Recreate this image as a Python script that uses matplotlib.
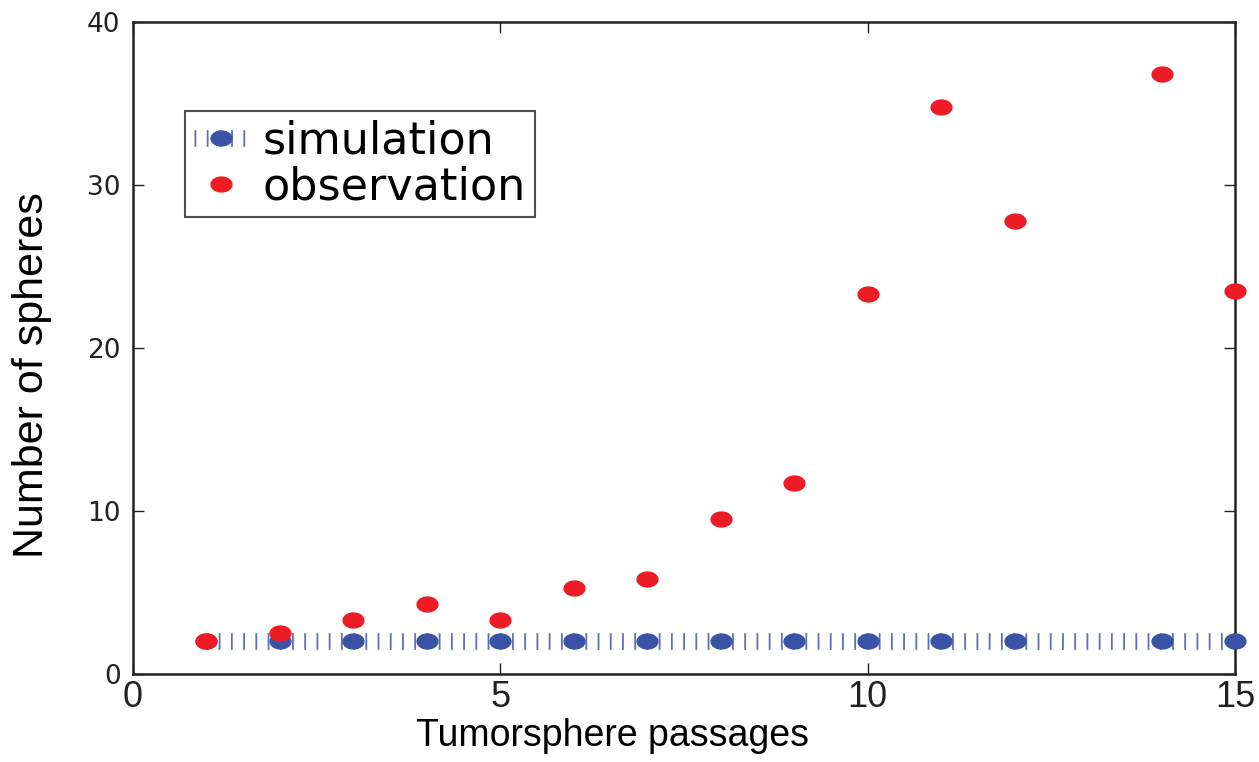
import numpy as np
import matplotlib
matplotlib.use("Agg")
import matplotlib.pyplot as plt
from matplotlib.path import Path
from matplotlib.lines import Line2D
from matplotlib import font_manager

passages = [1, 2, 3, 4, 5, 6, 7, 8, 9, 10, 11, 12, 14, 15]
simulation = [2, 2, 2, 2, 2, 2, 2, 2, 2, 2, 2, 2, 2, 2]
observation = [2.0, 2.5, 3.3, 4.3, 3.3, 5.3, 5.8, 9.5, 11.7, 23.3, 34.8, 27.8, 36.8, 23.5]
x_ticks = [0, 5, 10, 15]
y_ticks = [0, 10, 20, 30, 40]

names = {f.name for f in font_manager.fontManager.ttflist}
narrow = "Liberation Sans Narrow" if "Liberation Sans Narrow" in names else "Liberation Sans"

blue = "#3a53a4"
bar_blue = "#5a70b8"
red = "#ed1c24"

# ellipse marker, wider than tall
t = np.linspace(0, 2 * np.pi, 60)
ellipse = Path(np.column_stack([1.4 * np.cos(t), np.sin(t)]))

plt.rcParams["lines.scale_dashes"] = False
fig = plt.figure(figsize=(12.59, 7.62), dpi=100)
ax = fig.add_axes([133 / 1259, 1 - 674 / 762, (1235 - 133) / 1259, (674 - 22) / 762])

# simulation: hatched line of short vertical bars with dot markers
ax.plot(passages, simulation, color=bar_blue, linewidth=12, linestyle=(0, (1.3, 7.5)),
        solid_capstyle="butt", dash_capstyle="butt", zorder=2)
ax.plot(passages, simulation, linestyle="none", marker=ellipse, markersize=15,
        color=blue, zorder=3, clip_on=False)
ax.plot(passages, observation, linestyle="none", marker=ellipse, markersize=15,
        color=red, zorder=4, clip_on=False)

ax.set_xlim(0, 15)
ax.set_ylim(0, 40)
ax.set_xticks(x_ticks)
ax.set_yticks(y_ticks)
ax.tick_params(direction="in", length=8, width=1, top=True, right=True, colors="#222222")
for lab in ax.get_xticklabels():
    lab.set_fontfamily(narrow)
    lab.set_fontsize(26)
for lab in ax.get_yticklabels():
    lab.set_fontfamily("DejaVu Sans")
    lab.set_fontsize(19)
ax.tick_params(axis="x", pad=4)
ax.tick_params(axis="y", pad=9)
for s in ax.spines.values():
    s.set_linewidth(1.8)
    s.set_color("#222222")

ax.set_xlabel("Tumorsphere passages", fontfamily=narrow, fontsize=27)
ax.xaxis.set_label_coords((613 - 133) / 1102, (674 - 718) / 652)
ax.set_ylabel("Number of spheres", fontfamily=narrow, fontsize=31)
ax.yaxis.set_label_coords((52 - 133) / 1102, (674 - 375) / 652)

handles = [
    Line2D([0], [0], color=bar_blue, linewidth=12, linestyle=(0, (1.3, 7.5)),
           dash_capstyle="butt", marker=ellipse, markersize=15,
           markerfacecolor=blue, markeredgecolor=blue),
    Line2D([0], [0], linestyle="none", marker=ellipse, markersize=15, color=red),
]
leg = ax.legend(handles, ["simulation", "observation"], loc="upper left",
                bbox_to_anchor=(52 / 1102, 1 - 89 / 652), frameon=True, fancybox=False,
                prop={"family": "DejaVu Sans", "size": 32}, handlelength=1.2,
                handletextpad=0.35, borderpad=0.2, labelspacing=0.05, borderaxespad=0)
leg.get_frame().set_edgecolor("#222222")
leg.get_frame().set_linewidth(1.5)

fig.savefig("out.png", dpi=100)
